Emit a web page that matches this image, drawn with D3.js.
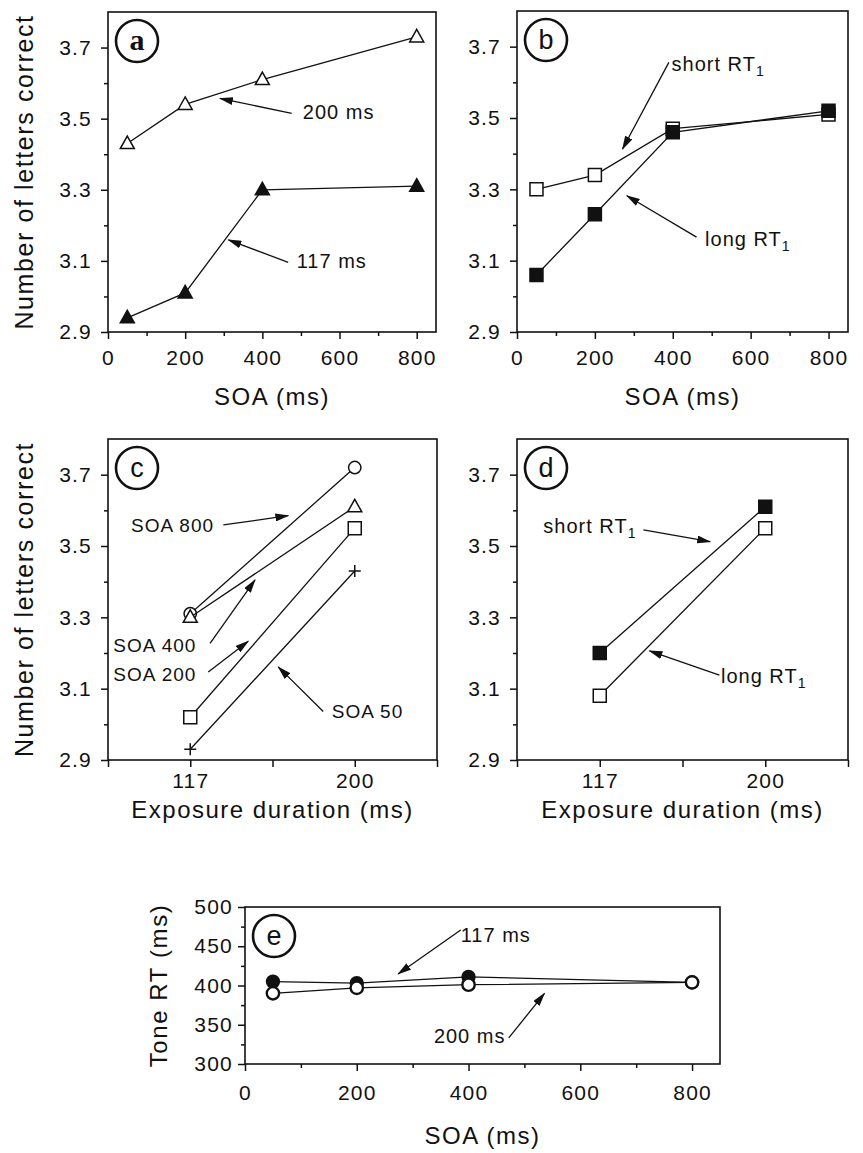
<!DOCTYPE html>
<html>
<head>
<meta charset="utf-8">
<script src="https://cdn.jsdelivr.net/npm/d3@7"></script>
<style>
  body { margin: 0; background: #fff; }
  svg { display: block; }
  text { font-family: "Liberation Sans", Arial, sans-serif; fill: #111; }
</style>
</head>
<body>
<script>
// ---- data ----
const soa = [50, 200, 400, 800]
const exposure = [117, 200]

// (a) letters correct vs SOA, by exposure duration
const aExp200 = [3.43, 3.54, 3.61, 3.73]
const aExp117 = [2.94, 3.01, 3.30, 3.31]
// (b) letters correct vs SOA, by RT1 split
const bShortRT1 = [3.30, 3.34, 3.47, 3.51]
const bLongRT1 = [3.06, 3.23, 3.46, 3.52]
// (c) letters correct vs exposure, by SOA
const cSoa800 = [3.31, 3.72]
const cSoa400 = [3.30, 3.61]
const cSoa200 = [3.02, 3.55]
const cSoa50 = [2.93, 3.43]
// (d) letters correct vs exposure, by RT1 split
const dShortRT1 = [3.20, 3.61]
const dLongRT1 = [3.08, 3.55]
// (e) tone RT vs SOA
const e117 = [405, 403, 411, 404]
const e200 = [390, 397, 401, 404]

const lettersTicks = [2.9, 3.1, 3.3, 3.5, 3.7]
const lettersMinor = [3.0, 3.2, 3.4, 3.6]
const soaTicks = [0, 200, 400, 600, 800]
const soaMinor = [100, 300, 500, 700]
const rtTicks = [300, 350, 400, 450, 500]
const rtMinor = [325, 375, 425, 475]

// annotation labels, in data units: text start, arrow tail -> arrow tip
const notesA = [
  {text: '200 ms', at: [505, 3.50], from: [476, 3.515], to: [290, 3.557]},
  {text: '117 ms', at: [489, 3.08], from: [467, 3.096], to: [312, 3.159]}
]
const notesB = [
  {text: 'short RT', sub: '1', at: [397, 3.633], from: [390, 3.656], to: [271, 3.413]},
  {text: 'long RT', sub: '1', at: [483, 3.14], from: [461, 3.166], to: [282, 3.282]}
]
const notesC = [
  {text: 'SOA 800', at: [87.1, 3.54], from: [133.7, 3.559], to: [166.5, 3.585]},
  {text: 'SOA 400', at: [78.2, 3.204], from: [127, 3.227], to: [149.7, 3.405]},
  {text: 'SOA 200', at: [78.2, 3.122], from: [126.1, 3.147], to: [146.3, 3.233]},
  {text: 'SOA 50', at: [188.4, 3.018], from: [184.1, 3.036], to: [161.4, 3.161]}
]
const notesD = [
  {text: 'short RT', sub: '1', at: [88.7, 3.536], from: [138.9, 3.545], to: [172.4, 3.512]},
  {text: 'long RT', sub: '1', at: [177.8, 3.115], from: [177, 3.138], to: [141.9, 3.206]}
]
const notesE = [
  {text: '117 ms', at: [386, 455.8], from: [386, 470.7], to: [274, 414.6]},
  {text: '200 ms', at: [338, 326.9], from: [472, 333.3], to: [536, 390]}
]

const W = 863, H = 1153
const ink = '#111'

const svg = d3.select('body').append('svg')
  .attr('width', W)
  .attr('height', H)

svg.append('defs').append('marker')
  .attr('id', 'head')
  .attr('viewBox', '0 0 14 8')
  .attr('refX', 13).attr('refY', 4)
  .attr('markerWidth', 14).attr('markerHeight', 8)
  .attr('markerUnits', 'userSpaceOnUse')
  .attr('orient', 'auto')
  .append('path')
  .attr('d', 'M0,0 L14,4 L0,8 z')
  .attr('fill', ink)

// marker shapes centred on 0,0
function shapePath(kind) {
  if (kind === 'triangle') return 'M0,-7.5 L7,5 L-7,5 Z'
  if (kind === 'square') return 'M-6.5,-6.5 H6.5 V6.5 H-6.5 Z'
  if (kind === 'plus') return 'M-6,0 H6 M0,-6 V6'
  return d3.symbol(d3.symbolCircle, 120)()
}

function panel(p) {
  const g = svg.append('g')
  const x = d3.scaleLinear().domain(p.xDomain).range([p.left, p.right])
  const y = d3.scaleLinear().domain(p.yDomain).range([p.bottom, p.top])

  const styleAxis = sel => {
    sel.select('.domain').remove()
    sel.selectAll('line').attr('stroke', ink).attr('stroke-width', 1.5)
    sel.selectAll('text')
      .style('font-size', '21px')
      .style('letter-spacing', '1.2px')
      .attr('fill', ink)
  }

  // minor ticks
  g.append('g').attr('transform', `translate(0,${p.bottom})`)
    .call(d3.axisBottom(x).tickValues(p.xMinor).tickSize(p.xMinorSize || 4).tickFormat(''))
    .call(styleAxis)
  g.append('g').attr('transform', `translate(${p.left},0)`)
    .call(d3.axisLeft(y).tickValues(p.yMinor).tickSize(4).tickFormat(''))
    .call(styleAxis)

  // major ticks
  g.append('g').attr('transform', `translate(0,${p.bottom})`)
    .call(d3.axisBottom(x).tickValues(p.xTicks).tickSize(7).tickFormat(p.xFormat || d3.format('d')))
    .call(styleAxis)
    .call(s => s.selectAll('text').attr('y', p.xLabelY).attr('dy', null))
  g.append('g').attr('transform', `translate(${p.left},0)`)
    .call(d3.axisLeft(y).tickValues(p.yTicks).tickSize(7).tickPadding(p.yPad || 9).tickFormat(p.yFormat))
    .call(styleAxis)

  // frame
  g.append('rect')
    .attr('x', p.left).attr('y', p.top)
    .attr('width', p.right - p.left).attr('height', p.bottom - p.top)
    .attr('fill', 'none').attr('stroke', ink).attr('stroke-width', 1.6)

  // axis titles
  if (p.xTitle) {
    g.append('text')
      .attr('x', (p.left + p.right) / 2).attr('y', p.bottom + p.xTitleY)
      .attr('text-anchor', 'middle')
      .style('font-size', '24px').style('letter-spacing', '1.5px')
      .text(p.xTitle)
  }
  if (p.yTitle) {
    g.append('text')
      .attr('transform', `translate(${p.yTitleX},${(p.top + p.bottom) / 2}) rotate(-90)`)
      .attr('text-anchor', 'middle')
      .style('font-size', p.yTitleSize || '25px').style('letter-spacing', '1.6px')
      .text(p.yTitle)
  }

  // panel letter in a circle
  const cx = p.left + 29, cy = p.top + 29
  g.append('circle').attr('cx', cx).attr('cy', cy).attr('r', 21)
    .attr('fill', 'none').attr('stroke', ink).attr('stroke-width', 2.6)
  g.append('text').attr('x', cx).attr('y', cy + 9)
    .attr('text-anchor', 'middle')
    .style('font-family', p.letterSerif ? '"Liberation Serif", serif' : null)
    .style('font-size', p.letterSerif ? '30px' : '27px')
    .style('font-weight', p.letterSerif ? 'bold' : 'normal')
    .text(p.letter)

  // series
  p.series.forEach(s => {
    const pts = s.values.map((v, i) => [p.xs[i], v])
    g.append('path')
      .datum(pts)
      .attr('d', d3.line().x(d => x(d[0])).y(d => y(d[1])))
      .attr('fill', 'none').attr('stroke', ink).attr('stroke-width', 1.3)
    g.selectAll(null)
      .data(pts)
      .enter().append('path')
      .attr('transform', d => `translate(${x(d[0])},${y(d[1])})`)
      .attr('d', shapePath(s.shape))
      .attr('fill', s.shape === 'plus' ? 'none' : (s.filled ? ink : '#fff'))
      .attr('stroke', ink)
      .attr('stroke-width', s.sw || 1.5)
  })

  // annotations
  p.notes.forEach(n => {
    g.append('line')
      .attr('x1', x(n.from[0])).attr('y1', y(n.from[1]))
      .attr('x2', x(n.to[0])).attr('y2', y(n.to[1]))
      .attr('stroke', ink).attr('stroke-width', 1.3)
      .attr('marker-end', 'url(#head)')
    const t = g.append('text')
      .attr('x', x(n.at[0])).attr('y', y(n.at[1]))
      .style('font-size', p.noteSize || '20px').style('letter-spacing', '1px')
    t.append('tspan').text(n.text)
    if (n.sub) t.append('tspan').attr('dy', 5).style('font-size', '14px').text(n.sub)
  })
}

const fmt1 = d3.format('.1f')

panel({
  letter: 'a', letterSerif: true,
  left: 108, right: 436, top: 12, bottom: 332,
  xDomain: [0, 850], yDomain: [2.9, 3.8], xs: soa,
  xTicks: soaTicks, xMinor: soaMinor, yTicks: lettersTicks, yMinor: lettersMinor, yFormat: fmt1,
  xLabelY: 33, xTitle: 'SOA (ms)', xTitleY: 73,
  yTitle: 'Number of letters correct', yTitleX: 33,
  series: [
    {values: aExp200, shape: 'triangle', filled: false},
    {values: aExp117, shape: 'triangle', filled: true}
  ],
  notes: notesA
})

panel({
  letter: 'b',
  left: 517, right: 848, top: 11, bottom: 332,
  xDomain: [0, 850], yDomain: [2.9, 3.8], xs: soa,
  xTicks: soaTicks, xMinor: soaMinor, yTicks: lettersTicks, yMinor: lettersMinor, yFormat: fmt1,
  xLabelY: 33, xTitle: 'SOA (ms)', xTitleY: 73,
  series: [
    {values: bShortRT1, shape: 'square', filled: false},
    {values: bLongRT1, shape: 'square', filled: true}
  ],
  notes: notesB
})

panel({
  letter: 'c',
  left: 108, right: 437, top: 439, bottom: 760,
  xDomain: [75.5, 241.5], yDomain: [2.9, 3.8], xs: exposure,
  xTicks: exposure, xMinor: [75.5, 158.5, 241.5], xMinorSize: 7,
  yTicks: lettersTicks, yMinor: lettersMinor, yFormat: fmt1,
  xLabelY: 28, xTitle: 'Exposure duration (ms)', xTitleY: 58,
  yTitle: 'Number of letters correct', yTitleX: 33,
  noteSize: '19px',
  series: [
    {values: cSoa800, shape: 'circle', filled: false},
    {values: cSoa400, shape: 'triangle', filled: false},
    {values: cSoa200, shape: 'square', filled: false},
    {values: cSoa50, shape: 'plus', filled: false}
  ],
  notes: notesC
})

panel({
  letter: 'd',
  left: 517, right: 848, top: 439, bottom: 760,
  xDomain: [75.5, 241.5], yDomain: [2.9, 3.8], xs: exposure,
  xTicks: exposure, xMinor: [75.5, 158.5, 241.5], xMinorSize: 7,
  yTicks: lettersTicks, yMinor: lettersMinor, yFormat: fmt1,
  xLabelY: 28, xTitle: 'Exposure duration (ms)', xTitleY: 58,
  series: [
    {values: dLongRT1, shape: 'square', filled: false},
    {values: dShortRT1, shape: 'square', filled: true}
  ],
  notes: notesD
})

panel({
  letter: 'e',
  left: 245, right: 720, top: 907, bottom: 1064,
  xDomain: [0, 850], yDomain: [300, 500], xs: soa,
  xTicks: soaTicks, xMinor: soaMinor, yTicks: rtTicks, yMinor: rtMinor, yFormat: d3.format('d'), yPad: 5,
  xLabelY: 36, xTitle: 'SOA (ms)', xTitleY: 80,
  yTitle: 'Tone RT (ms)', yTitleX: 167, yTitleSize: '24px',
  series: [
    {values: e117, shape: 'circle', filled: true, sw: 2},
    {values: e200, shape: 'circle', filled: false, sw: 2.4}
  ],
  notes: notesE
})
</script>
</body>
</html>
